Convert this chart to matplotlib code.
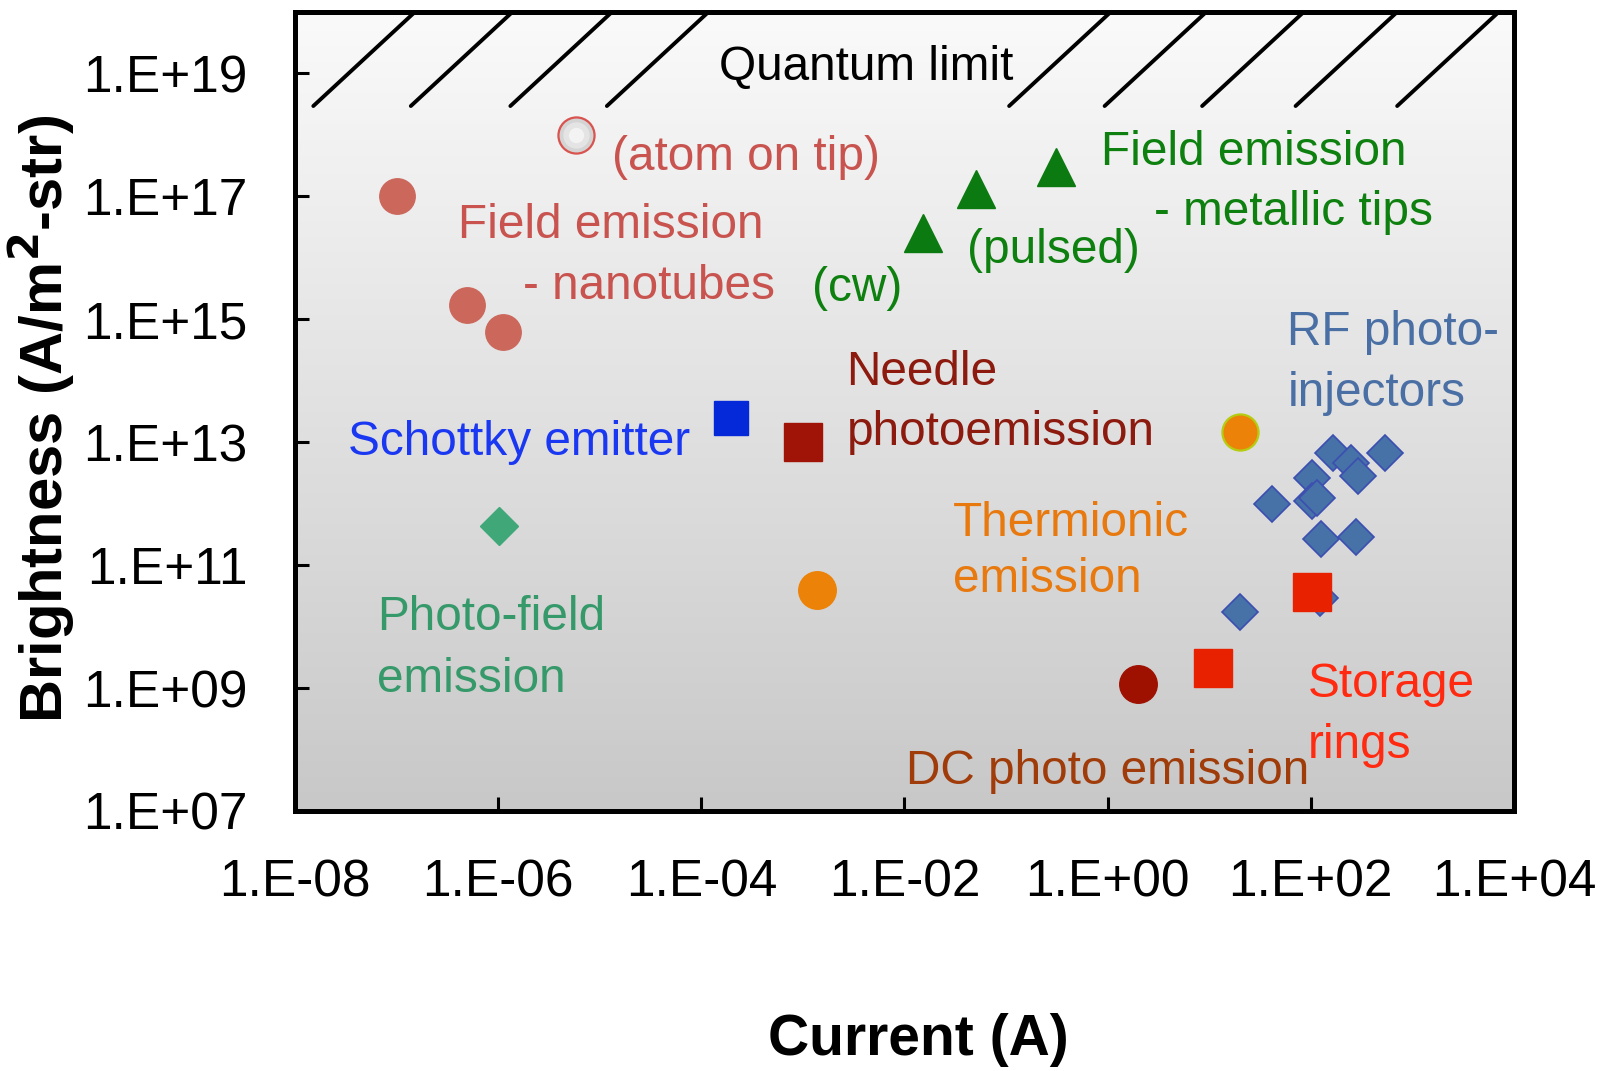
import numpy as np
import matplotlib.pyplot as plt
from matplotlib.colors import LinearSegmentedColormap

plt.rcParams['font.family'] = ['Liberation Sans', 'DejaVu Sans']

# Dados (log10 da corrente em A, log10 do brilho em A/m2-str)
nano_x = [-7.0, -6.31, -5.95]
nano_y = [17.0, 15.24, 14.79]
atom_x = [-5.23]
atom_y = [18.0]
metal_x = [-1.82, -1.30, -0.51]
metal_y = [16.40, 17.12, 17.47]
schottky_x = [-3.71]
schottky_y = [13.40]
needle_x = [-3.0]
needle_y = [13.0]
photofield_x = [-5.99]
photofield_y = [11.63]
thermo_x = [-2.86]
thermo_y = [10.59]
thermo2_x = [1.30]
thermo2_y = [13.16]
dc_x = [0.30]
dc_y = [9.06]
storage_x = [1.04, 2.01]
storage_y = [9.33, 10.57]
rf_x = [2.22, 2.40, 2.73, 2.01, 2.46, 1.62, 2.01, 2.06, 2.10, 2.44, 1.30, 2.09]
rf_y = [12.83, 12.66, 12.83, 12.42, 12.45, 12.0, 12.05, 12.10, 11.42, 11.45, 10.24, 10.46]

xticks = [-8, -6, -4, -2, 0, 2, 4]
xtick_labels = ['1.E-08', '1.E-06', '1.E-04', '1.E-02', '1.E+00', '1.E+02', '1.E+04']
yticks = [7, 9, 11, 13, 15, 17, 19]
ytick_labels = ['1.E+07', '1.E+09', '1.E+11', '1.E+13', '1.E+15', '1.E+17', '1.E+19']

# Rotulos (texto, x, y, cor)
labels = [
    ('Quantum limit', -3.83, 19.09, 'black'),
    ('(atom on tip)', -4.875, 17.63, '#c8534f'),
    ('Field emission', -6.40, 16.53, '#c8534f'),
    ('- nanotubes', -5.76, 15.54, '#c8534f'),
    ('(cw)', -2.91, 15.50, '#0e800f'),
    ('(pulsed)', -1.38, 16.12, '#0e800f'),
    ('Field emission', -0.07, 17.71, '#0e800f'),
    ('- metallic tips', 0.46, 16.73, '#0e800f'),
    ('RF photo-', 1.77, 14.79, '#4a6fa5'),
    ('injectors', 1.77, 13.79, '#4a6fa5'),
    ('Needle', -2.57, 14.14, '#8c1a0e'),
    ('photoemission', -2.57, 13.15, '#8c1a0e'),
    ('Schottky emitter', -7.48, 13.0, '#1a38f2'),
    ('Thermionic', -1.52, 11.67, '#e8790e'),
    ('emission', -1.52, 10.77, '#e8790e'),
    ('Photo-field', -7.19, 10.14, '#35996a'),
    ('emission', -7.19, 9.14, '#35996a'),
    ('Storage', 1.97, 9.06, '#ff2a10'),
    ('rings', 1.97, 8.06, '#ff2a10'),
    ('DC photo emission', -1.99, 7.65, '#a03c0a'),
]

# Linhas do limite quantico (x inicial em log10)
hatch_x0 = [-7.82, -6.86, -5.88, -4.93, -0.97, -0.03, 0.93, 1.85, 2.85]
hatch_y0 = 18.47

def p(v):
    return 10.0 ** np.array(v)

fig = plt.figure(figsize=(16.06, 10.71), dpi=100)
pos = [0.1837, 0.2428, 0.759, 0.746]

# Fundo degrade
bg = fig.add_axes(pos, zorder=0)
cmap = LinearSegmentedColormap.from_list('g', ['#c8c8c8', '#fafafa'])
bg.imshow(np.linspace(0, 1, 256).reshape(-1, 1), origin='lower', cmap=cmap,
          aspect='auto', extent=[0, 1, 0, 1])
bg.axis('off')

ax = fig.add_axes(pos, zorder=1)
ax.set_facecolor('none')
ax.set_xscale('log')
ax.set_yscale('log')

for x0 in hatch_x0:
    ax.plot(p([x0, x0 + 1.0]), p([hatch_y0, 20.0]), color='black', lw=2.8,
            solid_capstyle='round', zorder=2)

ms = dict(linestyle='none', zorder=3)
ax.plot(p(nano_x), p(nano_y), 'o', ms=25.5, color='#cc675c', mec='#cc675c', **ms)
# atomo na ponta: circulo cinza com brilho no centro
ax.plot(p(atom_x), p(atom_y), 'o', ms=26, mfc='#d4d4d4', mec='#d9534f', mew=1.6, **ms)
ax.plot(p(atom_x), p(atom_y), 'o', ms=19, mfc='#e4e4e4', mec='none', **ms)
ax.plot(p(atom_x), p(atom_y), 'o', ms=11, mfc='#f3f3f3', mec='none', **ms)
ax.plot(p(metal_x), p(metal_y), '^', ms=28, color='#0b7a10', **ms)
ax.plot(p(schottky_x), p(schottky_y), 's', ms=24, color='#0528d8', **ms)
ax.plot(p(needle_x), p(needle_y), 's', ms=28, color='#a01408', **ms)
ax.plot(p(photofield_x), p(photofield_y), 'D', ms=19.5, color='#40a878', **ms)
ax.plot(p(thermo_x), p(thermo_y), 'o', ms=27, color='#ec8207', **ms)
ax.plot(p(thermo2_x), p(thermo2_y), 'o', ms=26, mfc='#ec8207', mec='#b5cc10', mew=1.6, **ms)
ax.plot(p(rf_x), p(rf_y), 'D', ms=18.5, mfc='#4672a8', mec='#3c4fb0', mew=1.2, **ms)
ax.plot(p(storage_x), p(storage_y), 's', ms=27, color='#e82200', zorder=4, linestyle='none')
ax.plot(p(dc_x), p(dc_y), 'o', ms=27, color='#9e1000', **ms)

for txt, x, y, c in labels:
    ax.text(10 ** x, 10 ** y, txt, color=c, fontsize=34.4, ha='left', va='center', zorder=5)

ax.set_xlim(1e-8, 1e4)
ax.set_ylim(1e7, 1e20)
ax.set_xticks(p(xticks))
ax.set_xticklabels(xtick_labels)
ax.set_yticks(p(yticks))
ax.set_yticklabels(ytick_labels)
ax.minorticks_off()
ax.tick_params(direction='in', length=10, width=2.2, labelsize=37)
ax.tick_params(axis='x', pad=34)
ax.tick_params(axis='y', pad=34)

for s in ax.spines.values():
    s.set_linewidth(3.6)

ax.set_xlabel('Current (A)', fontsize=41, fontweight='bold')
ax.xaxis.set_label_coords(0.511, -0.287)
ax.xaxis.label.set_va('center')
ax.set_ylabel('Brightness (A/m$^{\\mathbf{2}}$-str)', fontsize=43, fontweight='bold')
ax.yaxis.set_label_coords(-0.208, 0.49)
ax.yaxis.label.set_va('center')

fig.savefig('out.png', dpi=100)
